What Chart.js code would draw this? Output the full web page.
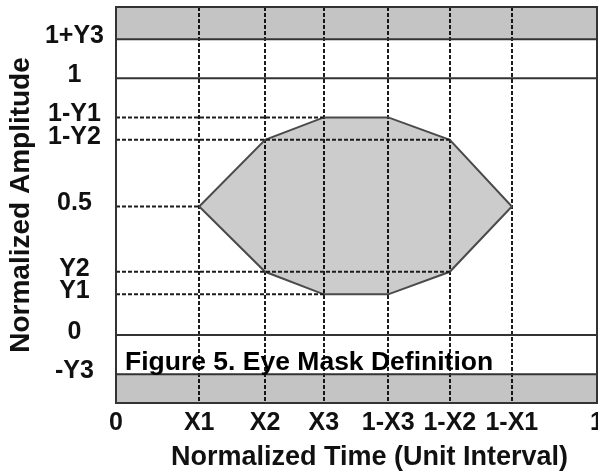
<!DOCTYPE html>
<html>
<head>
<meta charset="utf-8">
<script src="https://cdn.jsdelivr.net/npm/chart.js@4.4.1/dist/chart.umd.min.js"></script>
<style>
  html, body { margin: 0; padding: 0; background: #fff; }
</style>
</head>
<body>
<canvas id="eyeChart" width="598" height="471"></canvas>
<script>
const xTickValues = [0, 0.173, 0.31, 0.432, 0.566, 0.694, 0.823, 1];
const xTickLabels = ["0", "X1", "X2", "X3", "1-X3", "1-X2", "1-X1", "1"];
const yTickValues = [-0.153, 0, 0.158, 0.246, 0.5, 0.76, 0.847, 1, 1.151];
const yTickLabels = ["-Y3", "0", "Y1", "Y2", "0.5", "1-Y2", "1-Y1", "1", "1+Y3"];

// eye mask polygon, clockwise from X1 and closed
const maskX = [0.173, 0.31, 0.432, 0.566, 0.694, 0.823, 0.694, 0.566, 0.432, 0.31, 0.173];
const maskY = [0.5, 0.76, 0.847, 0.847, 0.76, 0.5, 0.246, 0.158, 0.158, 0.246, 0.5];

// dashed guides from the amplitude axis to the mask
const guideY = [0.847, 0.76, 0.5, 0.246, 0.158];
const guideEndX = [0.432, 0.694, 0.173, 0.694, 0.432];

// solid limit lines and the shaded bands
const limitY = [1, 0];
const bandTopY = 1.151;
const bandBottomY = -0.153;

const caption = "Figure 5. Eye Mask Definition";
const xTitle = "Normalized Time (Unit Interval)";
const FONT = '"Liberation Sans", Arial, sans-serif';
const DASH = [4, 2];

const guideSets = guideY.map((y, i) => ({
  data: [{ x: 0, y: y }, { x: guideEndX[i], y: y }],
  borderColor: "#1c1c1c",
  borderWidth: 2,
  borderDash: DASH,
}));

const limitSets = limitY.map((y) => ({
  data: [{ x: 0, y: y }, { x: 1, y: y }],
  borderColor: "#333",
  borderWidth: 2,
}));

// frame round the plot, the caption inside it and the time axis title
const framePlugin = {
  id: "frame",
  afterDraw(chart) {
    const { ctx, chartArea: a, scales } = chart;
    ctx.save();
    ctx.strokeStyle = "#333";
    ctx.lineWidth = 2;
    ctx.strokeRect(a.left, a.top, a.right - a.left, a.bottom - a.top);
    ctx.fillStyle = "#000";
    ctx.textBaseline = "alphabetic";
    ctx.font = "bold 26.5px " + FONT;
    ctx.fillText(caption, a.left + 9, scales.y.getPixelForValue(bandBottomY) - 4);
    ctx.font = "bold 27px " + FONT;
    ctx.fillStyle = "#111";
    ctx.textAlign = "center";
    ctx.fillText(xTitle, (a.left + a.right) / 2 + 13, chart.height - 6);
    ctx.restore();
  },
};

new Chart(document.getElementById("eyeChart"), {
  type: "scatter",
  data: {
    datasets: [
      ...guideSets,
      ...limitSets,
      {
        data: maskX.map((x, i) => ({ x: x, y: maskY[i] })),
        borderColor: "#4a4a4a",
        borderWidth: 2,
        backgroundColor: "rgba(0, 0, 0, 0.2)",
        fill: "shape",
      },
      {
        data: [{ x: 0, y: bandTopY }, { x: 1, y: bandTopY }],
        borderColor: "#333",
        borderWidth: 2,
        backgroundColor: "rgba(0, 0, 0, 0.23)",
        fill: "end",
      },
      {
        data: [{ x: 0, y: bandBottomY }, { x: 1, y: bandBottomY }],
        borderColor: "#333",
        borderWidth: 2,
        backgroundColor: "rgba(0, 0, 0, 0.23)",
        fill: "start",
      },
    ],
  },
  options: {
    responsive: false,
    animation: false,
    showLine: true,
    elements: { point: { radius: 0 }, line: { tension: 0 } },
    layout: { padding: { top: 7, right: 1, left: 0, bottom: 0 } },
    plugins: { legend: { display: false }, tooltip: { enabled: false } },
    scales: {
      x: {
        type: "linear",
        min: 0,
        max: 1,
        afterBuildTicks: (s) => { s.ticks = xTickValues.map((v) => ({ value: v })); },
        afterFit: (s) => { s.height = 68; s.paddingLeft = 0; s.paddingRight = 0; },
        ticks: {
          autoSkip: false,
          maxRotation: 0,
          padding: 5,
          color: "#111",
          font: { family: FONT, size: 25, weight: "bold" },
          callback: (v, i) => xTickLabels[i],
        },
        grid: {
          drawTicks: false,
          lineWidth: 2,
          color: (c) => (c.index === 0 || c.index === xTickValues.length - 1) ? "rgba(0,0,0,0)" : "#1c1c1c",
        },
        border: { display: false, dash: DASH },
        title: { display: false },
      },
      y: {
        type: "linear",
        min: -0.265,
        max: 1.277,
        afterBuildTicks: (s) => { s.ticks = yTickValues.map((v) => ({ value: v })); },
        afterFit: (s) => { s.width = 116; s.paddingTop = 0; s.paddingBottom = 0; },
        ticks: {
          autoSkip: false,
          crossAlign: "center",
          padding: 12,
          labelOffset: -3,
          color: "#111",
          font: { family: FONT, size: 25, weight: "bold" },
          callback: (v, i) => yTickLabels[i],
        },
        grid: { display: false, drawTicks: false },
        border: { display: false },
        title: {
          display: true,
          text: "Normalized Amplitude",
          color: "#111",
          font: { family: FONT, size: 28, weight: "bold" },
          padding: { top: 4, bottom: 0 },
        },
      },
    },
  },
  plugins: [framePlugin],
});
</script>
</body>
</html>
